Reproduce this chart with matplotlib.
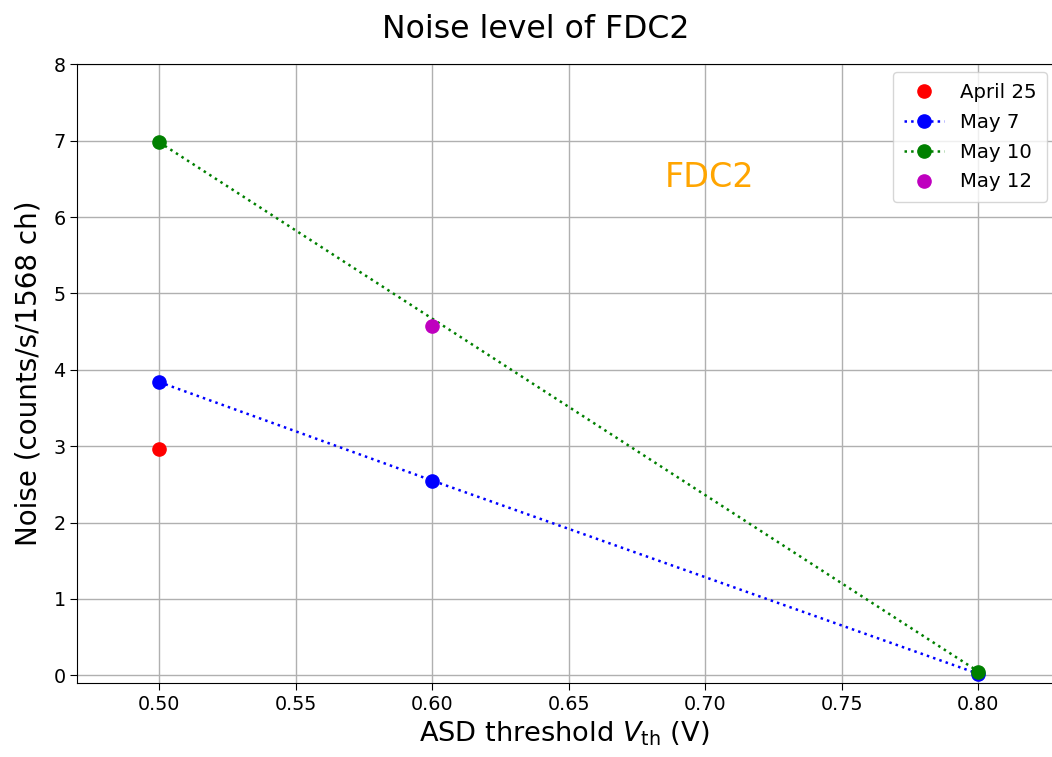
import matplotlib
matplotlib.use("Agg")
import matplotlib.pyplot as plt

plt.rcParams['font.family'] = ['DejaVu Sans']
plt.rcParams['mathtext.fontset'] = 'dejavusans'

apr25_x = [0.5]
apr25_y = [2.97]
may7_x = [0.5, 0.6, 0.8]
may7_y = [3.84, 2.55, 0.02]
may10_x = [0.5, 0.8]
may10_y = [6.98, 0.05]
may12_x = [0.6]
may12_y = [4.57]

fig = plt.figure(figsize=(10.52, 7.57), dpi=100)
ax = fig.add_axes([0.0735, 0.0978, 0.9265, 0.8172])

ms = 9.5
ax.plot(apr25_x, apr25_y, 'o', color='red', ms=ms, label='April 25', zorder=3)
ax.plot(may7_x, may7_y, 'o:', color='blue', ms=ms, lw=1.8, label='May 7', zorder=3)
ax.plot(may10_x, may10_y, 'o:', color='green', ms=ms, lw=1.8, label='May 10', zorder=3)
ax.plot(may12_x, may12_y, 'o', color='m', ms=ms, label='May 12', zorder=3)

ax.set_xlim(0.47, 0.827)
ax.set_ylim(-0.1, 8)
ax.set_xticks([0.5, 0.55, 0.6, 0.65, 0.7, 0.75, 0.8])
ax.set_xticklabels(['0.50', '0.55', '0.60', '0.65', '0.70', '0.75', '0.80'])
ax.set_yticks(range(0, 9))
ax.tick_params(labelsize=13.8, length=5)
ax.grid(True, color='#b0b0b0', lw=1)
ax.spines['right'].set_visible(False)

ax.set_xlabel(r'ASD threshold $V_{\mathrm{th}}$ (V)', fontsize=19.6)
ax.set_ylabel('Noise (counts/s/1568 ch)', fontsize=20, labelpad=8)
ax.set_title('Noise level of FDC2', fontsize=22.7, pad=19, x=0.4706)

ax.text(0.685, 6.4, 'FDC2', color='orange', fontsize=24)

ax.legend(loc='upper right', bbox_to_anchor=(0.9949, 0.9876), borderaxespad=0,
          fontsize=14.2, labelspacing=0.55, borderpad=0.55, handletextpad=0.8)

fig.savefig('out.png', dpi=100)
